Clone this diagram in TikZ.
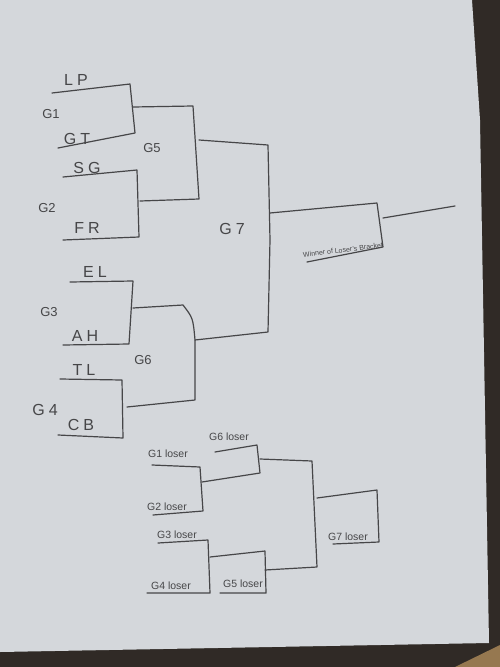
\documentclass[tikz,border=0pt]{standalone}
\usepackage{fontspec}
\setmainfont{Liberation Sans}
\definecolor{paper}{RGB}{212,215,219}
\definecolor{desk}{RGB}{48,42,38}
\definecolor{tan}{RGB}{150,120,80}
\definecolor{pencil}{RGB}{70,70,72}
\tikzset{
  pen/.style={draw=pencil, line width=1.2pt, line join=round, line cap=round},
  big/.style={text=pencil, inner sep=0pt, font=\fontsize{16}{16}\selectfont\addfontfeature{LetterSpace=25}},
  game/.style={text=pencil, inner sep=0pt, font=\fontsize{13}{13}\selectfont},
  small/.style={text=pencil, inner sep=0pt, font=\fontsize{10.5}{10.5}\selectfont},
  tiny/.style={text=pencil, inner sep=0pt, font=\fontsize{7}{7}\selectfont}
}
\begin{document}
\begin{tikzpicture}[x=1pt,y=-1pt]
\useasboundingbox (0,0) rectangle (500,667);
% background
\fill[desk] (0,0) rectangle (500,667);
\fill[paper] (0,0) -- (472,0) -- (480,120) -- (489,643) -- (0,652) -- cycle;
\fill[tan] (455,667) -- (500,645) -- (500,667) -- cycle;

% ---------- winners bracket coordinates ----------
\coordinate (lpA) at (52,93);  \coordinate (lpB) at (130,84);
\coordinate (gtA) at (58,148); \coordinate (gtB) at (135,133);
\coordinate (sgA) at (63,177); \coordinate (sgB) at (137,170);
\coordinate (frA) at (63,240); \coordinate (frB) at (139,237);
\coordinate (g5a) at (133,107); \coordinate (g5b) at (193,106);
\coordinate (g5c) at (199,199); \coordinate (g5d) at (140,201);
\coordinate (g5o) at (199,140);
\coordinate (g7a) at (268,145); \coordinate (g7m) at (270,240);
\coordinate (g7b) at (268,332);
\coordinate (g7o) at (270,213);
\coordinate (elA) at (70,282); \coordinate (elB) at (133,281);
\coordinate (ahA) at (63,345); \coordinate (ahB) at (129,344);
\coordinate (tlA) at (60,379); \coordinate (tlB) at (122,380);
\coordinate (cbA) at (58,435); \coordinate (cbB) at (123,438);
\coordinate (g6a) at (133,308); \coordinate (g6b) at (183,305);
\coordinate (g6o) at (195,340); \coordinate (g6c) at (195,400);
\coordinate (g6d) at (127,407);
\coordinate (wA) at (377,203); \coordinate (wB) at (383,247);
\coordinate (wU) at (307,262);
\coordinate (wO) at (383,218); \coordinate (wE) at (455,206);

% G1
\draw[pen] (lpA) -- (lpB) -- (gtB) -- (gtA);
% G2
\draw[pen] (sgA) -- (sgB) -- (frB) -- (frA);
% G5
\draw[pen] (g5a) -- (g5b) -- (g5c) -- (g5d);
% G3
\draw[pen] (elA) -- (elB) -- (ahB) -- (ahA);
% G4
\draw[pen] (tlA) -- (tlB) -- (cbB) -- (cbA);
% G6
\draw[pen] (g6a) -- (g6b) .. controls (193,318) .. (g6o) -- (g6c) -- (g6d);
% G7
\draw[pen] (g5o) -- (g7a) -- (g7m) -- (g7b) -- (g6o);
% final
\draw[pen] (g7o) -- (wA) -- (wB) -- (wU);
\draw[pen] (wO) -- (wE);

% labels
\node[big] (lp) at (76,80) {LP};
\node[game] (g1) at (51,114) {G1};
\node[big] (gt) at (77,139) {GT};
\node[big] (sg) at (87,168) {SG};
\node[game] (g2) at (47,208) {G2};
\node[big] (fr) at (87,228) {FR};
\node[game] (g5) at (152,148) {G5};
\node[big] (g7) at (232,229) {G7};
\node[big] (el) at (95,272) {EL};
\node[game] (g3) at (49,312) {G3};
\node[big] (ah) at (85,336) {AH};
\node[game] (g6) at (143,360) {G6};
\node[big] (tl) at (84,370) {TL};
\node[big] (g4) at (45,410) {G4};
\node[big] (cb) at (81,425) {CB};
\node[tiny, rotate=7] (win) at (343,250) {Winner of Loser's Bracket};

% ---------- losers bracket coordinates ----------
\coordinate (l6A) at (215,452); \coordinate (l6B) at (257,445);
\coordinate (l6C) at (260,473); \coordinate (l6D) at (202,482);
\coordinate (l1A) at (152,465); \coordinate (l1B) at (200,467);
\coordinate (l2B) at (203,511); \coordinate (l2A) at (153,515);
\coordinate (l3A) at (158,543); \coordinate (l3B) at (208,540);
\coordinate (l4B) at (210,593); \coordinate (l4A) at (147,593);
\coordinate (l34) at (210,557);
\coordinate (l5A) at (265,551); \coordinate (l5B) at (266,593);
\coordinate (l5C) at (220,593);
\coordinate (lrA) at (260,459); \coordinate (lrB) at (312,461);
\coordinate (lrC) at (317,567); \coordinate (lrD) at (265,570);
\coordinate (lrO) at (317,498);
\coordinate (l7A) at (377,490); \coordinate (l7B) at (379,542);
\coordinate (l7C) at (333,544);

\draw[pen] (l6A) -- (l6B) -- (l6C) -- (l6D);
\draw[pen] (l1A) -- (l1B) -- (l2B) -- (l2A);
\draw[pen] (l3A) -- (l3B) -- (l4B) -- (l4A);
\draw[pen] (l34) -- (l5A) -- (l5B) -- (l5C);
\draw[pen] (lrA) -- (lrB) -- (lrC) -- (lrD);
\draw[pen] (lrO) -- (l7A) -- (l7B) -- (l7C);

\node[small] (g6l) at (229,437) {G6 loser};
\node[small] (g1l) at (168,454) {G1 loser};
\node[small] (g2l) at (167,507) {G2 loser};
\node[small] (g3l) at (177,535) {G3 loser};
\node[small] (g4l) at (171,586) {G4 loser};
\node[small] (g5l) at (243,584) {G5 loser};
\node[small] (g7l) at (348,537) {G7 loser};
\end{tikzpicture}
\end{document}
